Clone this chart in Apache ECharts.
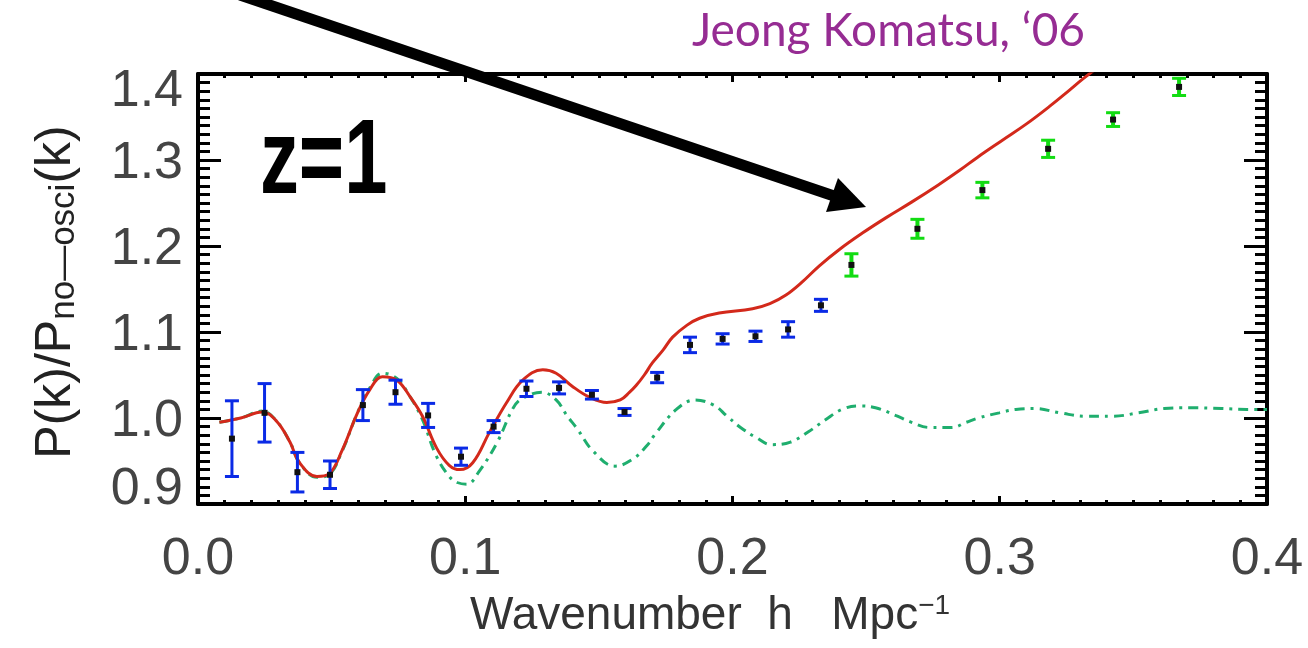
<!DOCTYPE html>
<html>
<head>
<meta charset="utf-8">
<title>P(k)/P_no-osci(k) at z=1</title>
<script src="https://cdn.jsdelivr.net/npm/echarts@6/dist/echarts.min.js"></script>
<style>
    html, body { margin: 0; padding: 0; background: #fff; }
    #main { width: 1308px; height: 648px; }
</style>
</head>
<body>
<div id="main"></div>
<script>
// axis ranges and tick labels
var xRange = [0, 0.4];
var yRange = [0.9, 1.4];
var xTickLabels = ['0.0', '0.1', '0.2', '0.3', '0.4'];
var yTickLabels = ['0.9', '1.0', '1.1', '1.2', '1.3', '1.4'];

// nonlinear model (red, solid)
var kRed = [0.008, 0.016, 0.024, 0.0295, 0.0344, 0.038, 0.0445, 0.049, 0.054, 0.0594,
    0.0643, 0.069, 0.0744, 0.0793, 0.084, 0.0893, 0.094, 0.098, 0.1028, 0.109,
    0.1155, 0.1215, 0.129, 0.134, 0.140, 0.1466, 0.153, 0.158, 0.1615, 0.164,
    0.167, 0.170, 0.174, 0.1776, 0.183, 0.1877, 0.195, 0.2075, 0.214, 0.220,
    0.226, 0.2325, 0.240, 0.2486, 0.2575, 0.267, 0.277, 0.285, 0.2916, 0.301,
    0.310, 0.3185, 0.326, 0.331, 0.336];
var pRed = [0.995, 1.000, 1.007, 0.996, 0.972, 0.948, 0.932, 0.935, 0.963, 1.004,
    1.033, 1.048, 1.044, 1.025, 1.002, 0.965, 0.945, 0.940, 0.948, 0.983,
    1.018, 1.044, 1.056, 1.052, 1.037, 1.024, 1.018, 1.021, 1.030, 1.038,
    1.050, 1.064, 1.079, 1.094, 1.108, 1.116, 1.122, 1.127, 1.133, 1.143,
    1.158, 1.177, 1.196, 1.215, 1.233, 1.251, 1.271, 1.288, 1.303, 1.323,
    1.342, 1.362, 1.381, 1.394, 1.406];

// linear model (green, dash-dot)
var kGreen = [0.008, 0.016, 0.024, 0.0295, 0.0344, 0.038, 0.0445, 0.049, 0.054, 0.0594,
    0.0643, 0.069, 0.0744, 0.0793, 0.084, 0.089, 0.094, 0.097, 0.1006, 0.105,
    0.112, 0.118, 0.1215, 0.1286, 0.134, 0.138, 0.142, 0.1477, 0.156, 0.1626,
    0.168, 0.171, 0.179, 0.186, 0.193, 0.198, 0.203, 0.209, 0.2146, 0.2217,
    0.2284, 0.2348, 0.241, 0.247, 0.2535, 0.261, 0.267, 0.2737, 0.282, 0.2875,
    0.292, 0.2998, 0.306, 0.313, 0.3226, 0.332, 0.342, 0.352, 0.3615, 0.371,
    0.383, 0.3925, 0.400];
var pGreen = [0.995, 1.000, 1.008, 0.996, 0.972, 0.948, 0.931, 0.934, 0.962, 1.004,
    1.035, 1.052, 1.046, 1.025, 0.998, 0.957, 0.932, 0.925, 0.923, 0.937,
    0.972, 1.012, 1.023, 1.030, 1.021, 1.003, 0.987, 0.962, 0.944, 0.952,
    0.968, 0.981, 1.010, 1.021, 1.015, 1.002, 0.989, 0.977, 0.969, 0.972,
    0.984, 0.998, 1.010, 1.014, 1.012, 1.003, 0.995, 0.989, 0.989, 0.995,
    1.000, 1.006, 1.010, 1.011, 1.006, 1.002, 1.002, 1.006, 1.011, 1.012,
    1.011, 1.010, 1.010];

// simulation points, blue error bars
var kBlue = [0.0127, 0.0249, 0.0372, 0.0494, 0.0617, 0.0739, 0.0861, 0.0984, 0.1106, 0.1229,
    0.1351, 0.1474, 0.1596, 0.1718, 0.1841, 0.1963, 0.2086, 0.2208, 0.2331];
var pBlue = [0.976, 1.006, 0.937, 0.934, 1.015, 1.030, 1.003, 0.955, 0.990, 1.034,
    1.035, 1.027, 1.007, 1.047, 1.085, 1.092, 1.095, 1.103, 1.131];
var eBlue = [0.044, 0.034, 0.023, 0.016, 0.018, 0.014, 0.014, 0.010, 0.007, 0.009,
    0.007, 0.005, 0.004, 0.006, 0.009, 0.006, 0.006, 0.009, 0.007];

// simulation points, green error bars
var kLime = [0.2445, 0.2692, 0.2935, 0.3181, 0.3424, 0.3671];
var pLime = [1.178, 1.220, 1.265, 1.313, 1.347, 1.385];
var eLime = [0.013, 0.011, 0.009, 0.010, 0.008, 0.010];

function pairs(xs, ys) {
    return xs.map(function (x, i) { return [x, ys[i]]; });
}
function triples(xs, ys, es) {
    return xs.map(function (x, i) { return [x, ys[i], es[i]]; });
}

function errorBar(color, width) {
    return function (params, api) {
        var x = api.value(0), y = api.value(1), e = api.value(2);
        var top = api.coord([x, y + e]);
        var bot = api.coord([x, y - e]);
        var mid = api.coord([x, y]);
        var hw = 7;
        var cap = { stroke: color, lineWidth: 3 };
        return {
            type: 'group',
            children: [
                { type: 'line', shape: { x1: top[0], y1: top[1], x2: bot[0], y2: bot[1] }, style: { stroke: color, lineWidth: width } },
                { type: 'line', shape: { x1: top[0] - hw, y1: top[1], x2: top[0] + hw, y2: top[1] }, style: cap },
                { type: 'line', shape: { x1: bot[0] - hw, y1: bot[1], x2: bot[0] + hw, y2: bot[1] }, style: cap },
                { type: 'rect', shape: { x: mid[0] - 3, y: mid[1] - 3, width: 6, height: 6 }, style: { fill: '#111' } }
            ]
        };
    };
}

var labelFont = 'Liberation Sans, Arial, sans-serif';

function frameAxis(pos, isX) {
    return {
        type: 'value',
        position: pos,
        min: isX ? xRange[0] : yRange[0],
        max: isX ? xRange[1] : yRange[1],
        interval: 0.1,
        axisLine: { show: true, onZero: false, lineStyle: { color: '#000', width: 4 } },
        axisTick: { show: true, inside: true, length: isX ? 8 : 23, lineStyle: { color: '#000', width: 3 } },
        minorTick: { show: true, splitNumber: 10, length: isX ? 4 : 12, lineStyle: { color: '#000', width: 3 } },
        splitLine: { show: false },
        axisLabel: { show: false }
    };
}

var xBottom = frameAxis('bottom', true);
xBottom.axisLabel = {
    show: true,
    margin: 30,
    fontSize: 52,
    fontFamily: labelFont,
    color: '#444',
    formatter: function (v) { return xTickLabels[Math.round(v * 10)]; }
};

var yLeft = frameAxis('left', false);
yLeft.axisLabel = {
    show: true,
    margin: 15,
    fontSize: 52,
    fontFamily: labelFont,
    color: '#444',
    formatter: function (v) {
        var i = Math.round((v - yRange[0]) * 10);
        var s = yTickLabels[i];
        if (i === yTickLabels.length - 1) return '{hi|' + s + '}';
        if (i === 0) return '{lo|' + s + '}';
        return '{n|' + s + '}';
    },
    rich: {
        n: { fontSize: 52, fontFamily: labelFont, color: '#444', padding: [7, 0, 0, 0] },
        hi: { fontSize: 52, fontFamily: labelFont, color: '#444', padding: [36, 0, 0, 0] },
        lo: { fontSize: 52, fontFamily: labelFont, color: '#444', padding: [0, 0, 28, 0] }
    }
};

var myChart = echarts.init(document.getElementById('main'));
var option = {
    animation: false,
    backgroundColor: '#fff',
    grid: { left: 198, right: 41, top: 74, bottom: 144, containLabel: false },
    xAxis: [xBottom, frameAxis('top', true)],
    yAxis: [yLeft, frameAxis('right', false)],
    series: [
        {
            type: 'line',
            data: pairs(kGreen, pGreen),
            showSymbol: false,
            smooth: 0.4,
            clip: true,
            z: 2,
            lineStyle: { color: '#1fae6e', width: 3, type: [10, 6, 3, 6] }
        },
        {
            type: 'line',
            data: pairs(kRed, pRed),
            showSymbol: false,
            smooth: 0.4,
            clip: true,
            z: 3,
            lineStyle: { color: '#d3291b', width: 3 }
        },
        {
            type: 'custom',
            data: triples(kBlue, pBlue, eBlue),
            renderItem: errorBar('#0a2ae6', 3),
            z: 4
        },
        {
            type: 'custom',
            data: triples(kLime, pLime, eLime),
            renderItem: errorBar('#12dc12', 4),
            z: 4
        }
    ],
    graphic: [
        // axis titles
        {
            type: 'text',
            x: 710, y: 592,
            z: 10,
            style: {
                text: '{m|Wavenumber  h   Mpc}{s|\u22121}',
                rich: {
                    m: { fontSize: 46, lineHeight: 48, fontFamily: labelFont, fill: '#333', color: '#333' },
                    s: { fontSize: 28, lineHeight: 18, verticalAlign: 'top', fontFamily: labelFont, fill: '#333', color: '#333' }
                },
                textAlign: 'center', align: 'center',
                textVerticalAlign: 'top', verticalAlign: 'top'
            }
        },
        {
            type: 'text',
            x: 56, y: 292,
            rotation: Math.PI / 2,
            z: 10,
            style: {
                text: '{m|P(k)/P}{s|no\u2014osci}{m|(k)}',
                rich: {
                    m: { fontSize: 50, lineHeight: 52, fontFamily: labelFont, fill: '#222', color: '#222' },
                    s: { fontSize: 35, lineHeight: 12, verticalAlign: 'bottom', fontFamily: labelFont, fill: '#222', color: '#222' }
                },
                textAlign: 'center', align: 'center',
                textVerticalAlign: 'middle', verticalAlign: 'middle'
            }
        },
        // annotations
        {
            type: 'text',
            x: 260, y: 164,
            scaleX: 0.74,
            z: 10,
            style: {
                text: 'z=1',
                font: 'bold 105px "Liberation Sans", Arial, sans-serif',
                fill: '#000',
                textAlign: 'left', align: 'left',
                textVerticalAlign: 'middle', verticalAlign: 'middle'
            }
        },
        {
            type: 'text',
            x: 1085, y: 31,
            z: 10,
            style: {
                text: 'Jeong Komatsu, \u201806',
                font: '46px Lato, "Open Sans", sans-serif',
                fill: '#962c93',
                textAlign: 'right', align: 'right',
                textVerticalAlign: 'middle', verticalAlign: 'middle'
            }
        },
        {
            type: 'line',
            z: 10,
            shape: { x1: 240, y1: -5, x2: 834, y2: 196 },
            style: { stroke: '#000', lineWidth: 11 }
        },
        {
            type: 'polygon',
            z: 10,
            shape: { points: [[866, 207], [838, 178], [826, 212]] },
            style: { fill: '#000' }
        }
    ]
};
myChart.setOption(option);
</script>
</body>
</html>
